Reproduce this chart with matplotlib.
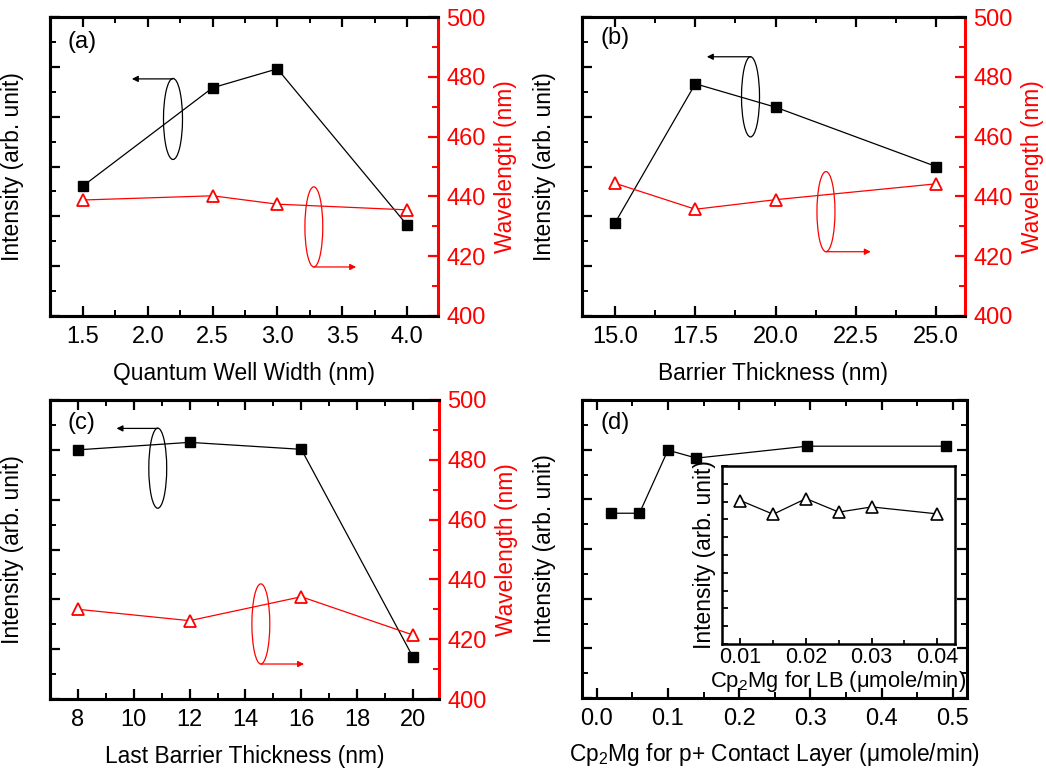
import matplotlib
matplotlib.use("Agg")
import matplotlib.pyplot as plt
from matplotlib.patches import Ellipse
from matplotlib.ticker import MultipleLocator, NullFormatter

plt.rcParams['font.family'] = ['Liberation Sans', 'DejaVu Sans']
plt.rcParams['mathtext.fontset'] = 'custom'
plt.rcParams['mathtext.rm'] = 'Liberation Sans'
plt.rcParams['mathtext.it'] = 'Liberation Sans:italic'
plt.rcParams['mathtext.default'] = 'regular'

# ---------------- data ----------------
a_x = [1.5, 2.5, 3.0, 4.0]
a_int = [2.61, 4.58, 4.96, 1.83]
a_wl = [438.8, 440.2, 437.4, 435.5]

b_x = [15.0, 17.5, 20.0, 25.0]
b_int = [1.87, 4.66, 4.19, 3.00]
b_wl = [444.4, 435.7, 438.9, 444.2]

c_x = [8, 12, 16, 20]
c_int = [5.00, 5.15, 5.01, 0.84]
c_wl = [430.0, 426.2, 434.2, 421.4]

d_x = [0.02, 0.06, 0.10, 0.14, 0.295, 0.49]
d_int = [3.72, 3.72, 4.99, 4.83, 5.07, 5.07]

inset_x = [0.010, 0.015, 0.020, 0.025, 0.030, 0.040]
inset_int = [8.06, 7.29, 8.17, 7.41, 7.70, 7.31]

# ---------------- style ----------------
TICK_FS = 17
LAB_FS = 16.4
SPINE_LW = 2.2
RED = '#ff0000'

fig = plt.figure(figsize=(10.46, 7.69), dpi=100)

W, H = 1046.0, 769.0


def rect(l, r, t, b):
    return [l / W, 1 - b / H, (r - l) / W, (b - t) / H]


def style_main(ax, xmaj, xmin, right_black=False):
    for s in ax.spines.values():
        s.set_linewidth(SPINE_LW)
    ax.xaxis.set_major_locator(MultipleLocator(xmaj))
    ax.xaxis.set_minor_locator(MultipleLocator(xmin))
    ax.set_ylim(0, 6)
    ax.yaxis.set_major_locator(MultipleLocator(1))
    ax.yaxis.set_minor_locator(MultipleLocator(0.5))
    ax.yaxis.set_major_formatter(NullFormatter())
    ax.tick_params(which='both', direction='in', top=True, right=right_black,
                   labelsize=TICK_FS, pad=7)
    ax.tick_params(which='major', length=7, width=1.6)
    ax.tick_params(which='minor', length=4, width=1.4)
    ax.set_ylabel('Intensity (arb. unit)', fontsize=LAB_FS, labelpad=12)
    if not right_black:
        ax.spines['right'].set_visible(False)


def style_twin(ax2):
    ax2.set_ylim(400, 500)
    ax2.yaxis.set_major_locator(MultipleLocator(20))
    ax2.yaxis.set_minor_locator(MultipleLocator(10))
    for s in ax2.spines.values():
        s.set_linewidth(SPINE_LW)
    ax2.spines['right'].set_color(RED)
    ax2.tick_params(axis='y', which='both', direction='in', colors=RED,
                    labelsize=TICK_FS, pad=6)
    ax2.tick_params(axis='y', which='major', length=7, width=1.6)
    ax2.tick_params(axis='y', which='minor', length=4, width=1.4)
    ax2.set_ylabel('Wavelength (nm)', color=RED, fontsize=LAB_FS, labelpad=6)


def ellipse_arrow(ax, cx, cy, w, h, color, ay, ax_end):
    e = Ellipse((cx, cy), w, h, transform=ax.transAxes, fill=False,
                ec=color, lw=0.9, zorder=5)
    ax.add_patch(e)
    ax.annotate('', xy=(ax_end, ay), xytext=(cx, ay),
                xycoords='axes fraction', textcoords='axes fraction',
                arrowprops=dict(arrowstyle='-|>', color=color, lw=0.9,
                                mutation_scale=9, shrinkA=0, shrinkB=0))


def plot_pair(ax, ax2, x, inten, wl):
    ax.plot(x, inten, color='black', lw=0.9, marker='s', ms=7.5,
            mfc='black', mec='black', zorder=3)
    ax2.plot(x, wl, color=RED, lw=0.9, marker='^', ms=8.5,
             mfc='white', mec=RED, mew=1.3, zorder=3)


# ---------------- (a) ----------------
axa = fig.add_axes(rect(50, 438, 17, 316))
style_main(axa, 0.5, 0.25)
axa.set_xlim(1.245, 4.24)
axa2 = axa.twinx()
style_twin(axa2)
plot_pair(axa, axa2, a_x, a_int, a_wl)
axa.set_xlabel('Quantum Well Width (nm)', fontsize=LAB_FS, labelpad=10)
axa.text(0.046, 0.916, '(a)', transform=axa.transAxes, fontsize=TICK_FS, va='center')
ellipse_arrow(axa2, 0.317, 0.659, 0.049, 0.271, 'black', 0.793, 0.211)
ellipse_arrow(axa2, 0.680, 0.298, 0.046, 0.268, RED, 0.164, 0.789)

# ---------------- (b) ----------------
axb = fig.add_axes(rect(582, 965, 17, 316))
style_main(axb, 2.5, 1.25)
axb.set_xlim(13.97, 25.9)
axb2 = axb.twinx()
style_twin(axb2)
plot_pair(axb, axb2, b_x, b_int, b_wl)
axb.set_xlabel('Barrier Thickness (nm)', fontsize=LAB_FS, labelpad=10)
axb.text(0.047, 0.93, '(b)', transform=axb.transAxes, fontsize=TICK_FS, va='center')
ellipse_arrow(axb2, 0.440, 0.733, 0.047, 0.268, 'black', 0.867, 0.326)
ellipse_arrow(axb2, 0.637, 0.349, 0.047, 0.268, RED, 0.215, 0.754)

# ---------------- (c) ----------------
axc = fig.add_axes(rect(50, 439, 400, 699))
style_main(axc, 2, 1)
axc.set_xlim(7.0, 20.93)
axc2 = axc.twinx()
style_twin(axc2)
plot_pair(axc, axc2, c_x, c_int, c_wl)
axc.set_xlabel('Last Barrier Thickness (nm)', fontsize=LAB_FS, labelpad=10)
axc.text(0.046, 0.923, '(c)', transform=axc.transAxes, fontsize=TICK_FS, va='center')
ellipse_arrow(axc2, 0.277, 0.772, 0.046, 0.268, 'black', 0.905, 0.171)
ellipse_arrow(axc2, 0.542, 0.251, 0.046, 0.268, RED, 0.117, 0.653)

# ---------------- (d) ----------------
axd = fig.add_axes(rect(582, 967, 400, 698))
style_main(axd, 0.1, 0.05, right_black=True)
axd.set_xlim(-0.0206, 0.5197)
axd.plot(d_x, d_int, color='black', lw=0.9, marker='s', ms=7.5,
         mfc='black', mec='black', zorder=3)
axd.set_xlabel(r'Cp$_{2}$Mg for p+ Contact Layer (μmole/min)',
               fontsize=LAB_FS, labelpad=8)
axd.text(0.047, 0.923, '(d)', transform=axd.transAxes, fontsize=TICK_FS, va='center')

# inset
axi = fig.add_axes(rect(722, 955, 466, 644))
for s in axi.spines.values():
    s.set_linewidth(1.8)
axi.set_xlim(0.0072, 0.0427)
axi.set_ylim(0, 10)
axi.xaxis.set_major_locator(MultipleLocator(0.01))
axi.xaxis.set_minor_locator(MultipleLocator(0.005))
axi.yaxis.set_major_locator(MultipleLocator(1))
axi.yaxis.set_major_formatter(NullFormatter())
axi.tick_params(which='both', direction='in', labelsize=15.5, pad=2)
axi.tick_params(which='major', length=4, width=1.3)
axi.tick_params(which='minor', length=3, width=1.2)
axi.plot(inset_x, inset_int, color='black', lw=0.9, marker='^', ms=8.5,
         mfc='white', mec='black', mew=1.2, zorder=3)
axi.set_xlabel(r'Cp$_{2}$Mg for LB (μmole/min)', fontsize=15.8, labelpad=1)
axi.set_ylabel('Intensity (arb. unit)', fontsize=LAB_FS, labelpad=2)

fig.savefig('out.png', dpi=100)
